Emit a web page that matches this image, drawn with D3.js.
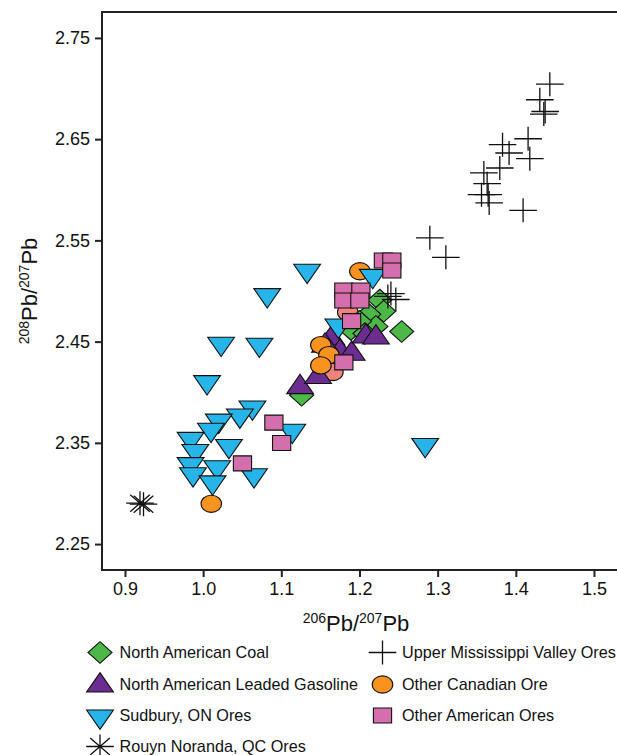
<!DOCTYPE html>
<html><head><meta charset="utf-8">
<script src="https://cdn.jsdelivr.net/npm/d3@7"></script>
<style>
html,body{margin:0;padding:0;background:#fff;}
svg{display:block;font-family:"Liberation Sans",Arial,Helvetica,sans-serif;}
</style></head>
<body><svg id="chart" width="617" height="755"></svg>
<script>
// ---- data (206Pb/207Pb, 208Pb/207Pb) ----
const xTicks = [0.9, 1.0, 1.1, 1.2, 1.3, 1.4, 1.5];
const yTicks = [2.25, 2.35, 2.45, 2.55, 2.65, 2.75];

const northAmericanCoal = [
  [1.226, 2.491], [1.231, 2.480], [1.212, 2.477], [1.221, 2.465], [1.200, 2.470],
  [1.189, 2.462], [1.207, 2.458], [1.254, 2.460], [1.126, 2.397]
];
const leadedGasoline = [
  [1.124, 2.405], [1.147, 2.415], [1.164, 2.453], [1.175, 2.440], [1.190, 2.438],
  [1.208, 2.455], [1.221, 2.454], [1.156, 2.446]
];
const unlabelledSamples = [
  [1.166, 2.420], [1.185, 2.479]
];
const otherCanadianOre = [
  [1.2005, 2.5195], [1.1506, 2.4466], [1.1609, 2.4367], [1.1506, 2.4265], [1.0104, 2.2898]
];
const sudburyOres = [
  [1.190, 2.500], [1.133, 2.520], [1.217, 2.515], [1.082, 2.496], [1.023, 2.448], [1.072, 2.447],
  [1.005, 2.410], [1.173, 2.466], [1.063, 2.385], [1.114, 2.362], [1.284, 2.348],
  [1.047, 2.377], [1.020, 2.372], [1.010, 2.363], [0.984, 2.354], [1.033, 2.347],
  [0.990, 2.342], [0.984, 2.329], [0.987, 2.319], [1.018, 2.326], [1.065, 2.318],
  [1.012, 2.311]
];
const otherAmericanOres = [
  [1.2306, 2.5301], [1.2414, 2.5301], [1.2414, 2.5202], [1.180, 2.5005], [1.180, 2.4906],
  [1.2018, 2.5005], [1.2005, 2.4906], [1.1899, 2.4702], [1.180, 2.4295], [1.0905, 2.370],
  [1.1004, 2.3499], [1.0503, 2.3297]
];
const upperMississippiValleyOres = [
  [1.4435, 2.7043], [1.4307, 2.6889], [1.4375, 2.6773], [1.4358, 2.6748], [1.4157, 2.6504],
  [1.4179, 2.6307], [1.3830, 2.6445], [1.3914, 2.6363], [1.3795, 2.6215], [1.3591, 2.6166],
  [1.3633, 2.6060], [1.3561, 2.5952], [1.3646, 2.5952], [1.3659, 2.5870], [1.4093, 2.5797],
  [1.2900, 2.5525], [1.3105, 2.5333], [1.2363, 2.4946], [1.2402, 2.4975], [1.2465, 2.4916]
];
const rouynNorandaOres = [
  [0.9192, 2.2904], [0.9237, 2.2894]
];

const legendLabels = [
  "North American Coal", "North American Leaded Gasoline", "Sudbury, ON Ores",
  "Rouyn Noranda, QC Ores", "Upper Mississippi Valley Ores", "Other Canadian Ore",
  "Other American Ores"
];

// ---- layout ----
const svg = d3.select("#chart");
const plot = {left: 102, top: 12, right: 619, bottom: 570};
const x = d3.scaleLinear().domain([0.8706, 1.5320]).range([plot.left, plot.right]);
const y = d3.scaleLinear().domain([2.2244, 2.7756]).range([plot.bottom, plot.top]);

// marker shapes (figure is slightly stretched horizontally)
const shapes = {
  diamond: (cx, cy) => `M${cx-12},${cy}L${cx},${cy-10.8}L${cx+12},${cy}L${cx},${cy+10.8}Z`,
  triUp: (cx, cy) => `M${cx},${cy-12.9}L${cx+13.4},${cy+6.45}L${cx-13.4},${cy+6.45}Z`,
  triDown: (cx, cy) => `M${cx},${cy+12.9}L${cx+13.4},${cy-6.45}L${cx-13.4},${cy-6.45}Z`,
  circle: (cx, cy) => `M${cx-10.3},${cy}A10.3,8.6 0 1,0 ${cx+10.3},${cy}A10.3,8.6 0 1,0 ${cx-10.3},${cy}Z`,
  square: (cx, cy) => `M${cx-9.1},${cy-7.5}H${cx+9.1}V${cy+7.5}H${cx-9.1}Z`,
  plus: (cx, cy) => `M${cx-13.8},${cy}H${cx+13.8}M${cx},${cy-12}V${cy+12}`,
  asterisk: (cx, cy) => `M${cx-13.8},${cy}H${cx+13.8}M${cx},${cy-12}V${cy+12}` +
      `M${cx-9.8},${cy-8.5}L${cx+9.8},${cy+8.5}M${cx-9.8},${cy+8.5}L${cx+9.8},${cy-8.5}`
};

const series = [
  {data: unlabelledSamples, shape: "circle", fill: "#F2837B"},
  {data: northAmericanCoal, shape: "diamond", fill: "#4DB748"},
  {data: leadedGasoline, shape: "triUp", fill: "#6B2D90"},
  {data: otherCanadianOre, shape: "circle", fill: "#F7931E"},
  {data: sudburyOres, shape: "triDown", fill: "#27B5E9"},
  {data: otherAmericanOres, shape: "square", fill: "#D56FAB"},
  {data: upperMississippiValleyOres, shape: "plus", fill: "none"},
  {data: rouynNorandaOres, shape: "asterisk", fill: "none"}
];

svg.append("clipPath").attr("id", "clip")
  .append("rect").attr("x", plot.left).attr("y", plot.top)
  .attr("width", plot.right - plot.left).attr("height", plot.bottom - plot.top);

const g = svg.append("g").attr("clip-path", "url(#clip)");
series.forEach(s => {
  g.append("g").selectAll("path").data(s.data).join("path")
    .attr("d", d => shapes[s.shape](x(d[0]), y(d[1])))
    .attr("fill", s.fill)
    .attr("stroke", "#111")
    .attr("stroke-width", s.fill === "none" ? 1.3 : 1.1)
    .attr("stroke-linejoin", "miter");
});

// box
svg.append("rect").attr("x", plot.left).attr("y", plot.top)
  .attr("width", plot.right - plot.left).attr("height", plot.bottom - plot.top)
  .attr("fill", "none").attr("stroke", "#222").attr("stroke-width", 2);

// axes
const xAxis = svg.append("g").attr("transform", `translate(0,${plot.bottom})`)
  .call(d3.axisBottom(x).tickValues(xTicks).tickFormat(d3.format(".1f")).tickSize(7).tickPadding(5));
const yAxis = svg.append("g").attr("transform", `translate(${plot.left},0)`)
  .call(d3.axisLeft(y).tickValues(yTicks).tickFormat(d3.format(".2f")).tickSize(7).tickPadding(5));
[xAxis, yAxis].forEach(a => {
  a.select(".domain").remove();
  a.selectAll(".tick line").attr("stroke", "#222").attr("stroke-width", 2);
  a.selectAll(".tick text").attr("fill", "#111").style("font-size", "18px")
    .style("font-family", "'Liberation Sans', Arial, sans-serif");
});

// axis titles
const xt = svg.append("text").attr("x", 356).attr("y", 631).attr("text-anchor", "middle")
  .style("font-size", "22px").attr("fill", "#111");
xt.append("tspan").text("206").style("font-size", "14px").attr("dy", "-8");
xt.append("tspan").text("Pb/").attr("dy", "8");
xt.append("tspan").text("207").style("font-size", "14px").attr("dy", "-8");
xt.append("tspan").text("Pb").attr("dy", "8");

const yt = svg.append("text").attr("transform", `translate(37,${(plot.top + plot.bottom) / 2}) rotate(-90)`)
  .attr("text-anchor", "middle").style("font-size", "22px").attr("fill", "#111");
yt.append("tspan").text("208").style("font-size", "14px").attr("dy", "-8");
yt.append("tspan").text("Pb/").attr("dy", "8");
yt.append("tspan").text("207").style("font-size", "14px").attr("dy", "-8");
yt.append("tspan").text("Pb").attr("dy", "8");

// legend
const legendItems = [
  {label: legendLabels[0], shape: "diamond", fill: "#4DB748", col: 0, row: 0},
  {label: legendLabels[1], shape: "triUp", fill: "#6B2D90", col: 0, row: 1},
  {label: legendLabels[2], shape: "triDown", fill: "#27B5E9", col: 0, row: 2},
  {label: legendLabels[3], shape: "asterisk", fill: "none", col: 0, row: 3},
  {label: legendLabels[4], shape: "plus", fill: "none", col: 1, row: 0},
  {label: legendLabels[5], shape: "circle", fill: "#F7931E", col: 1, row: 1},
  {label: legendLabels[6], shape: "square", fill: "#D56FAB", col: 1, row: 2}
];
const colX = [100, 382.5], rowY = [652.5, 684.5, 715.5, 746.5];
const lg = svg.append("g");
legendItems.forEach(it => {
  const cx = colX[it.col], cy = rowY[it.row];
  lg.append("path").attr("d", shapes[it.shape](cx, cy + (it.shape === "triUp" || it.shape === "triDown" ? 1 : 0)))
    .attr("fill", it.fill).attr("stroke", "#111").attr("stroke-width", it.fill === "none" ? 1.3 : 1.1);
  lg.append("text").attr("x", cx + 19.5).attr("y", cy + 5.8).text(it.label)
    .style("font-size", "16.2px").attr("fill", "#111");
});
</script></body></html>
